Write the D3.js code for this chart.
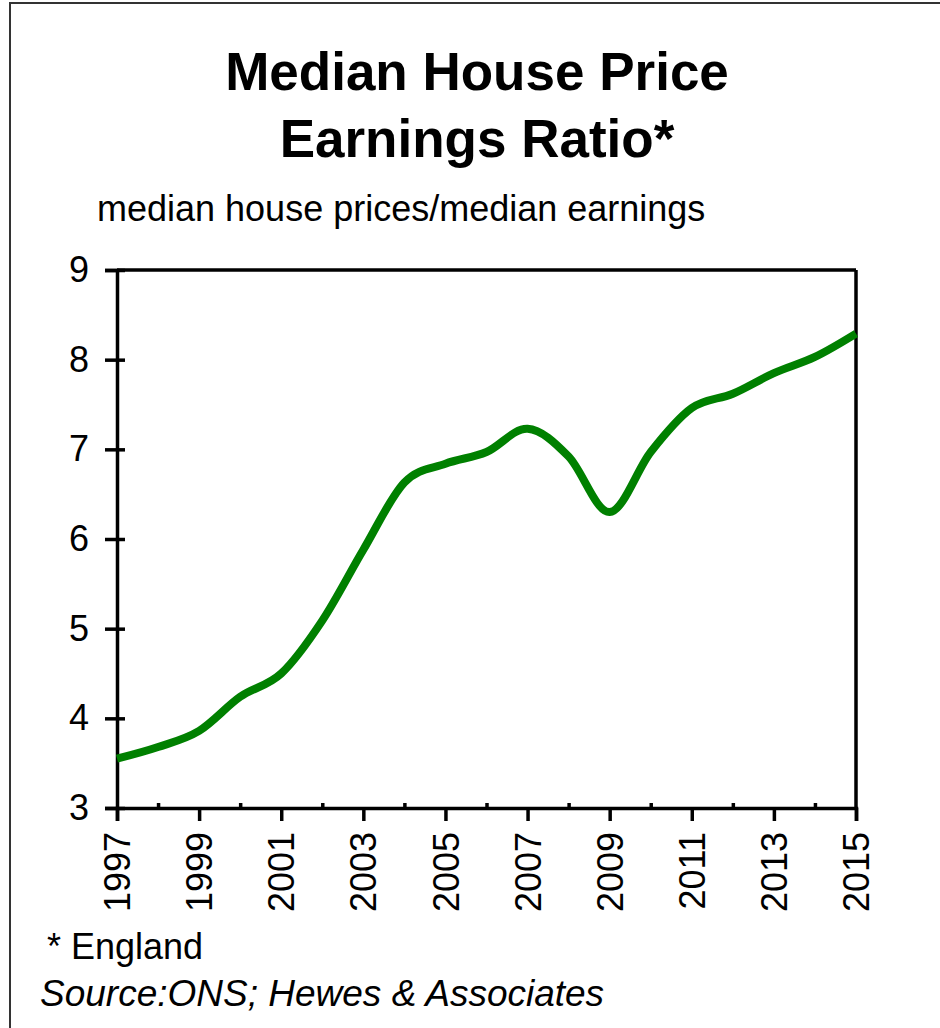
<!DOCTYPE html>
<html>
<head>
<meta charset="utf-8">
<script src="https://cdn.jsdelivr.net/npm/d3@7"></script>
<style>
  body { margin: 0; background: #fff; }
  svg { display: block; font-family: "Liberation Sans", Arial, sans-serif; }
</style>
</head>
<body>
<div id="chart"></div>
<script>
// data (England, yearly)
var years = [1997, 1998, 1999, 2000, 2001, 2002, 2003, 2004, 2005, 2006,
             2007, 2008, 2009, 2010, 2011, 2012, 2013, 2014, 2015];
var ratio = [3.55, 3.68, 3.86, 4.24, 4.50, 5.09, 5.88, 6.63, 6.84, 6.97,
             7.23, 6.92, 6.30, 6.97, 7.46, 7.62, 7.85, 8.03, 8.29];
var yTicks = [3, 4, 5, 6, 7, 8, 9];
var xLabelYears = [1997, 1999, 2001, 2003, 2005, 2007, 2009, 2011, 2013, 2015];
var xMinorYears = [1998, 2000, 2002, 2004, 2006, 2008, 2010, 2012, 2014];

var w = 940, h = 1028;
var plotLeft = 117, plotRight = 856, plotTop = 270, plotBottom = 808;
var axisWidth = 3.5;

var svg = d3.select("#chart")
  .append("svg")
  .attr("width", w)
  .attr("height", h);

// outer frame (runs off the right and bottom edge)
svg.append("rect")
  .attr("x", 10).attr("y", 3)
  .attr("width", 1000).attr("height", 1100)
  .attr("fill", "none")
  .attr("stroke", "#333")
  .attr("stroke-width", 2);

// titles
svg.append("text")
  .attr("x", 477).attr("y", 90)
  .attr("text-anchor", "middle")
  .attr("font-size", 53).attr("font-weight", "bold")
  .text("Median House Price");
svg.append("text")
  .attr("x", 477).attr("y", 157)
  .attr("text-anchor", "middle")
  .attr("font-size", 53).attr("font-weight", "bold")
  .text("Earnings Ratio*");
svg.append("text")
  .attr("x", 97).attr("y", 221)
  .attr("font-size", 36)
  .text("median house prices/median earnings");

var x = d3.scaleLinear().domain([1997, 2015]).range([plotLeft, plotRight]);
var y = d3.scaleLinear().domain([3, 9]).range([plotBottom, plotTop]);

// top and right edge of plot box
svg.append("line")
  .attr("x1", plotLeft).attr("x2", plotRight)
  .attr("y1", plotTop).attr("y2", plotTop)
  .attr("stroke", "#000").attr("stroke-width", axisWidth);
svg.append("line")
  .attr("x1", plotRight).attr("x2", plotRight)
  .attr("y1", plotTop).attr("y2", plotBottom)
  .attr("stroke", "#000").attr("stroke-width", axisWidth);

// y axis, ticks cross the axis line
var yAxis = svg.append("g")
  .attr("transform", "translate(" + plotLeft + ",0)")
  .call(d3.axisLeft(y).tickValues(yTicks).tickSize(12).tickPadding(16)
    .tickFormat(d3.format("d")));
yAxis.selectAll(".tick line").attr("x1", 8);

// minor x ticks point inward
svg.append("g")
  .attr("transform", "translate(0," + plotBottom + ")")
  .call(d3.axisBottom(x).tickValues(xMinorYears).tickSize(-5).tickFormat(""))
  .select(".domain").remove();

// labelled x ticks
var xAxis = svg.append("g")
  .attr("transform", "translate(0," + plotBottom + ")")
  .call(d3.axisBottom(x).tickValues(xLabelYears).tickSize(13).tickFormat(d3.format("d")));
xAxis.selectAll(".tick text")
  .attr("transform", "rotate(-90)")
  .attr("text-anchor", "end")
  .attr("x", -24)
  .attr("y", 0)
  .attr("dy", "0.35em");

svg.selectAll(".domain").attr("stroke-width", axisWidth);
svg.selectAll(".tick line").attr("stroke-width", axisWidth);
svg.selectAll(".tick text")
  .attr("font-size", 36)
  .attr("font-family", "Liberation Sans, Arial, sans-serif")
  .attr("fill", "#000");

// the ratio line, smoothed like the original spreadsheet chart
var line = d3.line()
  .x(function(d, i) { return x(years[i]); })
  .y(function(d) { return y(d); })
  .curve(d3.curveCatmullRom.alpha(0));

svg.append("path")
  .datum(ratio)
  .attr("d", line)
  .attr("fill", "none")
  .attr("stroke", "#008000")
  .attr("stroke-width", 8);

// footnotes
svg.append("text")
  .attr("x", 47).attr("y", 959)
  .attr("font-size", 36)
  .text("* England");
svg.append("text")
  .attr("x", 40).attr("y", 1006)
  .attr("font-size", 37)
  .attr("font-style", "italic")
  .text("Source:ONS; Hewes & Associates");
</script>
</body>
</html>
